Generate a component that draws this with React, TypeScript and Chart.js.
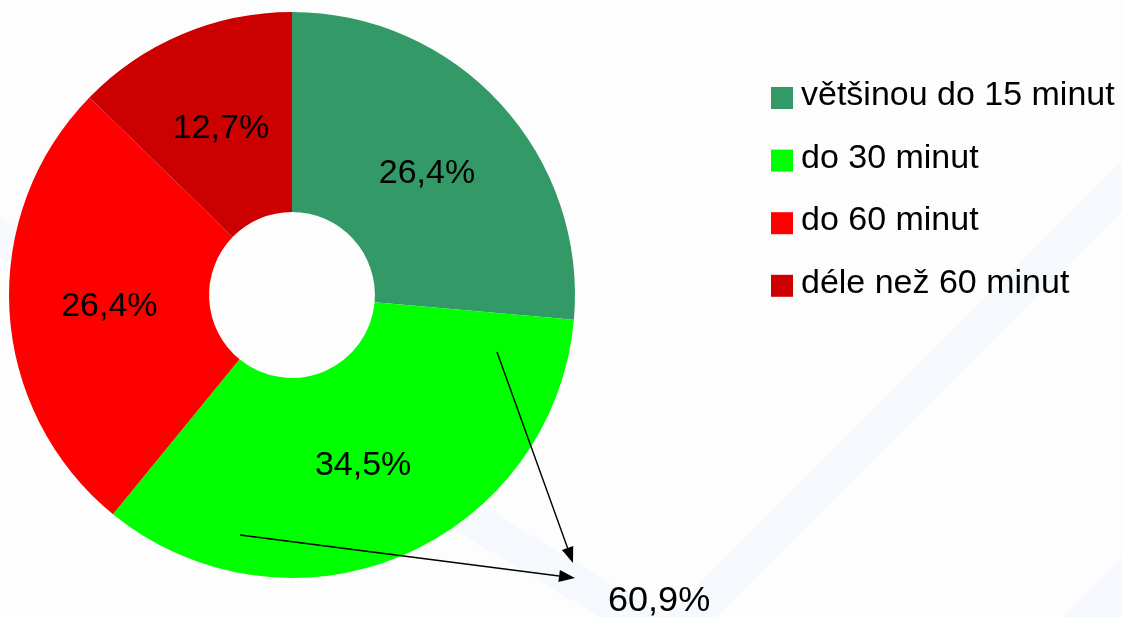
import React, { useEffect, useRef } from "react";
import { Chart, registerables } from "chart.js";

Chart.register(...registerables);

const categories = ["většinou do 15 minut", "do 30 minut", "do 60 minut", "déle než 60 minut"];
const shares = [26.4, 34.5, 26.4, 12.7];
const colors = ["#339966", "#00FF00", "#FF0000", "#CC0000"];
const groupedIdx = [0, 1];

const fmt = (v: number) => v.toFixed(1).replace(".", ",") + "%";
const FONT = "'Liberation Sans', Arial, sans-serif";
const SX = 1.03;

const backgroundPlugin = {
  id: "bgStripes",
  beforeDraw(chart: any) {
    const ctx = chart.ctx;
    const W = chart.width;
    const H = chart.height;
    ctx.save();
    ctx.fillStyle = "#fdfdfe";
    ctx.fillRect(0, 0, W, H);
    ctx.fillStyle = "#f5f8fc";
    const band = (a: number, b: number) => {
      ctx.beginPath();
      ctx.moveTo(a, 0);
      ctx.lineTo(b, 0);
      ctx.lineTo(b - H, H);
      ctx.lineTo(a - H, H);
      ctx.closePath();
      ctx.fill();
    };
    band(1283, 1333);
    band(1680, 1740);
    ctx.beginPath();
    ctx.moveTo(0, 217);
    ctx.lineTo(W, 217 + 0.6 * W);
    ctx.lineTo(W, 257 + 0.6 * W);
    ctx.lineTo(0, 257);
    ctx.closePath();
    ctx.fill();
    ctx.restore();
  },
};

function stretchedText(ctx: any, text: string, x: number, y: number, align: "left" | "center") {
  ctx.save();
  ctx.translate(x, y);
  ctx.scale(SX, 1);
  ctx.textAlign = align;
  ctx.fillText(text, 0, 0);
  ctx.restore();
}

const overlayPlugin = {
  id: "overlay",
  afterDraw(chart: any) {
    const ctx = chart.ctx;
    const meta = chart.getDatasetMeta(0);
    const data = chart.data.datasets[0].data as number[];
    ctx.save();
    ctx.fillStyle = "#000";
    ctx.font = `33px ${FONT}`;
    ctx.textBaseline = "middle";
    meta.data.forEach((arc: any, i: number) => {
      const p = arc.getCenterPoint();
      stretchedText(ctx, fmt(data[i]), p.x, p.y + 2, "center");
    });

    const labels = chart.data.labels as string[];
    const bg = chart.data.datasets[0].backgroundColor as string[];
    ctx.textBaseline = "alphabetic";
    ctx.font = `33px ${FONT}`;
    labels.forEach((lab, i) => {
      const top = 87 + i * 62.6;
      ctx.fillStyle = bg[i];
      ctx.fillRect(771, top, 22, 22);
      ctx.fillStyle = "#000";
      stretchedText(ctx, lab, 801, top + 18, "left");
    });

    const arrow = (x1: number, y1: number, x2: number, y2: number) => {
      const ang = Math.atan2(y2 - y1, x2 - x1);
      const L = 16;
      const w = 6;
      const bx = x2 - L * Math.cos(ang);
      const by = y2 - L * Math.sin(ang);
      ctx.strokeStyle = "#000";
      ctx.lineWidth = 1.4;
      ctx.beginPath();
      ctx.moveTo(x1, y1);
      ctx.lineTo(bx, by);
      ctx.stroke();
      ctx.fillStyle = "#000";
      ctx.beginPath();
      ctx.moveTo(x2, y2);
      ctx.lineTo(bx + w * Math.sin(ang), by - w * Math.cos(ang));
      ctx.lineTo(bx - w * Math.sin(ang), by + w * Math.cos(ang));
      ctx.closePath();
      ctx.fill();
    };
    arrow(497, 352, 573, 563);
    arrow(240, 535, 575, 578);

    const total = groupedIdx.reduce((s, i) => s + data[i], 0);
    ctx.fillStyle = "#000";
    ctx.font = `35px ${FONT}`;
    stretchedText(ctx, fmt(total), 608, 611, "left");
    ctx.restore();
  },
};

export default function App() {
  const ref = useRef<HTMLCanvasElement | null>(null);
  useEffect(() => {
    document.body.style.margin = "0";
    const chart = new Chart(ref.current as HTMLCanvasElement, {
      type: "doughnut",
      data: {
        labels: categories,
        datasets: [
          {
            data: shares,
            backgroundColor: colors,
            borderWidth: 0,
          },
        ],
      },
      options: {
        animation: false,
        responsive: false,
        devicePixelRatio: 1,
        cutout: "29.3%",
        rotation: 0,
        layout: { padding: { left: 9, top: 12, right: 547, bottom: 39 } },
        plugins: {
          legend: { display: false },
          tooltip: { enabled: false },
        },
      },
      plugins: [backgroundPlugin, overlayPlugin],
    });
    return () => chart.destroy();
  }, []);
  return (
    <div style={{ position: "absolute", left: 0, top: 0, width: 1122, height: 617 }}>
      <canvas ref={ref} width={1122} height={617} />
    </div>
  );
}
